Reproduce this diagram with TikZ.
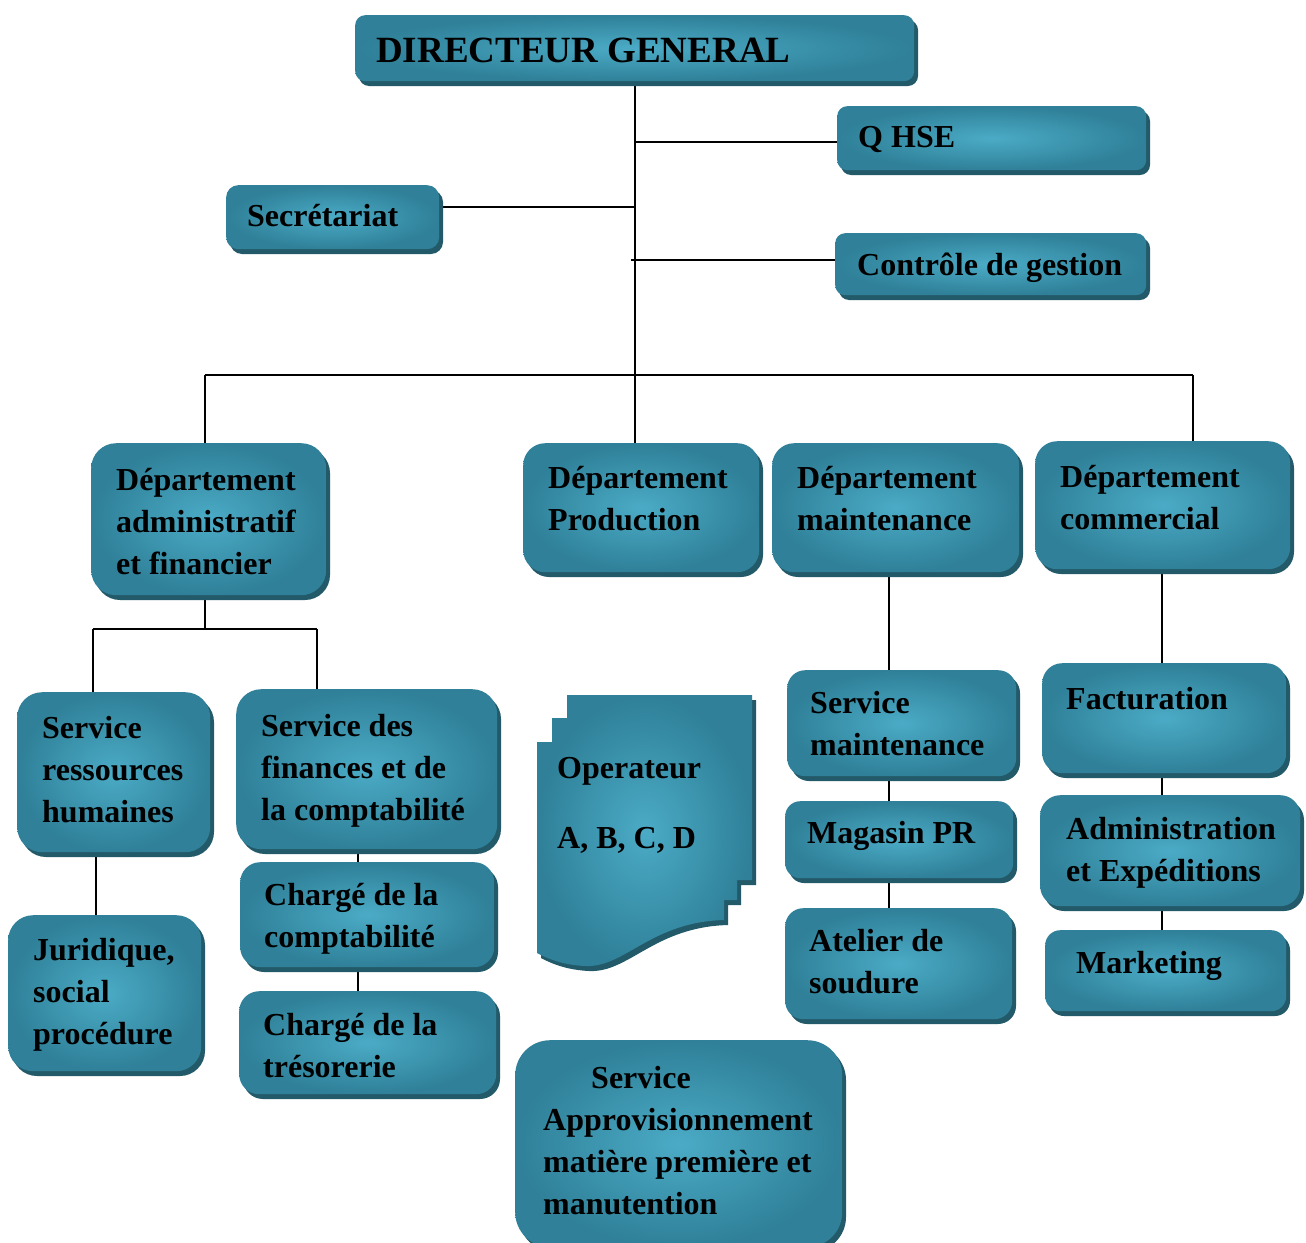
\documentclass[tikz,border=0pt]{standalone}
\usepackage{fontspec}
\setmainfont{Liberation Serif}
\usetikzlibrary{backgrounds,calc}
\definecolor{bin}{HTML}{4BABC6}
\definecolor{bout}{HTML}{2F8098}
\definecolor{bshadow}{HTML}{235A6A}
\newcommand\ml[1]{\begin{tabular}[t]{@{}l@{}}#1\end{tabular}}
\newcommand\obox[6]{%
  \fill[bshadow, rounded corners=#6] ({#2+4},{#3+5}) rectangle (#4,#5);
  \node[obx, rounded corners=#6, anchor=north west,
        minimum width={(#4-#2-4)*1pt}, minimum height={(#5-#3-5)*1pt}] (#1) at (#2,#3) {};}
\newcommand\tx[4]{\node[txt, anchor=base west] (#1) at (#2,#3) {\ml{#4}};}
\begin{document}
\begin{tikzpicture}[x=1pt,y=-1pt,
  txt/.style={font=\bfseries\fontsize{32}{42}\selectfont, inner sep=0pt, text=black},
  obx/.style={inner color=bin, outer color=bout, inner sep=0pt, draw=none},
  ln/.style={line width=2pt, black}]
\path[use as bounding box] (0,0) rectangle (1306,1242);
% boxes
\obox{dg}{355}{15}{918}{86}{10}
\obox{qhse}{837}{106}{1150}{175}{10}
\obox{sec}{226}{185}{443}{254}{12}
\obox{ctrl}{835}{233}{1150}{300}{10}
\obox{adm}{91}{443}{330}{600}{25}
\obox{prod}{523}{443}{763}{577}{22}
\obox{dmaint}{772}{443}{1023}{577}{22}
\obox{comm}{1035}{441}{1294}{574}{22}
\obox{srh}{17}{692}{214}{857}{25}
\obox{sfin}{236}{689}{501}{854}{25}
\obox{ccomp}{240}{862}{498}{972}{20}
\obox{ctres}{239}{991}{500}{1099}{20}
\obox{jur}{8}{915}{205}{1076}{25}
\obox{smaint}{787}{670}{1020}{781}{18}
\obox{mag}{785}{801}{1017}{883}{15}
\obox{atel}{785}{908}{1016}{1024}{18}
\obox{fact}{1042}{663}{1290}{778}{20}
\obox{admexp}{1040}{795}{1304}{911}{20}
\obox{mkt}{1045}{930}{1290}{1016}{15}
\obox{appro}{515}{1040}{846}{1252}{35}
% operator multi-document shape
\def\oppath{(567,695) -- (752,695) -- (752,880) -- (737,880) -- (737,900) -- (724,900) -- (724,920)
  .. controls (650,922) and (625,968) .. (585,966) .. controls (565,965) and (550,960) .. (537,953)
  -- (537,742) -- (552,742) -- (552,718) -- (567,718) -- cycle}
\fill[bshadow, shift={(4,5)}] \oppath;
\shade[inner color=bin, outer color=bout] \oppath;
% texts
\node[txt, font=\bfseries\fontsize{37}{44}\selectfont, anchor=base west] (dgt) at (376,62) {DIRECTEUR GENERAL};
\tx{qhset}{858}{147}{Q HSE}
\tx{sect}{247}{226}{Secrétariat}
\tx{ctrlt}{857}{275}{Contrôle de gestion}
\tx{admt}{116}{490}{Département\\administratif\\et financier}
\tx{prodt}{548}{488}{Département\\Production}
\tx{dmaintt}{797}{488}{Département\\maintenance}
\tx{commt}{1060}{487}{Département\\commercial}
\tx{srht}{42}{738}{Service\\ressources\\humaines}
\tx{sfint}{261}{736}{Service des\\finances et de\\la comptabilité}
\tx{ccompt}{264}{905}{Chargé de la\\comptabilité}
\tx{ctrest}{263}{1035}{Chargé de la\\trésorerie}
\tx{jurt}{33}{960}{Juridique,\\social\\procédure}
\tx{opt}{557}{778}{Operateur\\[28pt]A, B, C, D}
\tx{approt}{543}{1088}{\hspace*{48pt}Service\\Approvisionnement\\matière première et\\manutention}
\tx{smaintt}{810}{713}{Service\\maintenance}
\tx{magt}{807}{843}{Magasin PR}
\tx{atelt}{809}{951}{Atelier de\\soudure}
\tx{factt}{1066}{709}{Facturation}
\tx{admexpt}{1066}{839}{Administration\\et Expéditions}
\tx{mktt}{1076}{973}{Marketing}
% connectors
\begin{scope}[on background layer]
\coordinate (bl) at (205,375);
\coordinate (br) at (1193,375);
\coordinate (aj) at (205,629);
\coordinate (al) at (93,629);
\coordinate (ar) at (317,629);
\coordinate (xf) at (358,0);
\coordinate (xr) at (96,0);
\coordinate (xm) at (889,0);
\coordinate (xc) at (1162,0);
\draw[ln] (dg.south) -- (dg.south |- prod.north);
\draw[ln] ([yshift=-4pt]qhse.west) -- ([yshift=-4pt]qhse.west -| dg.south);
\draw[ln] ([yshift=10pt]sec.east) -- ([yshift=10pt]sec.east -| dg.south);
\draw[ln] ([yshift=4pt]ctrl.west) -- ([yshift=4pt,xshift=-4pt]ctrl.west -| dg.south);
\draw[ln] (bl) -- (br);
\draw[ln] (bl) -- (bl |- adm.north);
\draw[ln] (br) -- (br |- comm.north);
\draw[ln] (aj |- adm.south) -- (aj);
\draw[ln] (al) -- (ar);
\draw[ln] (al) -- (al |- srh.north);
\draw[ln] (ar) -- (ar |- sfin.north);
\draw[ln] (xf |- sfin.south) -- (xf |- ccomp.north);
\draw[ln] (xf |- ccomp.south) -- (xf |- ctres.north);
\draw[ln] (xr |- srh.south) -- (xr |- jur.north);
\draw[ln] (xm |- dmaint.south) -- (xm |- smaint.north);
\draw[ln] (xm |- smaint.south) -- (xm |- mag.north);
\draw[ln] (xm |- mag.south) -- (xm |- atel.north);
\draw[ln] (xc |- comm.south) -- (xc |- fact.north);
\draw[ln] (xc |- fact.south) -- (xc |- admexp.north);
\draw[ln] (xc |- admexp.south) -- (xc |- mkt.north);
\end{scope}
\end{tikzpicture}
\end{document}
